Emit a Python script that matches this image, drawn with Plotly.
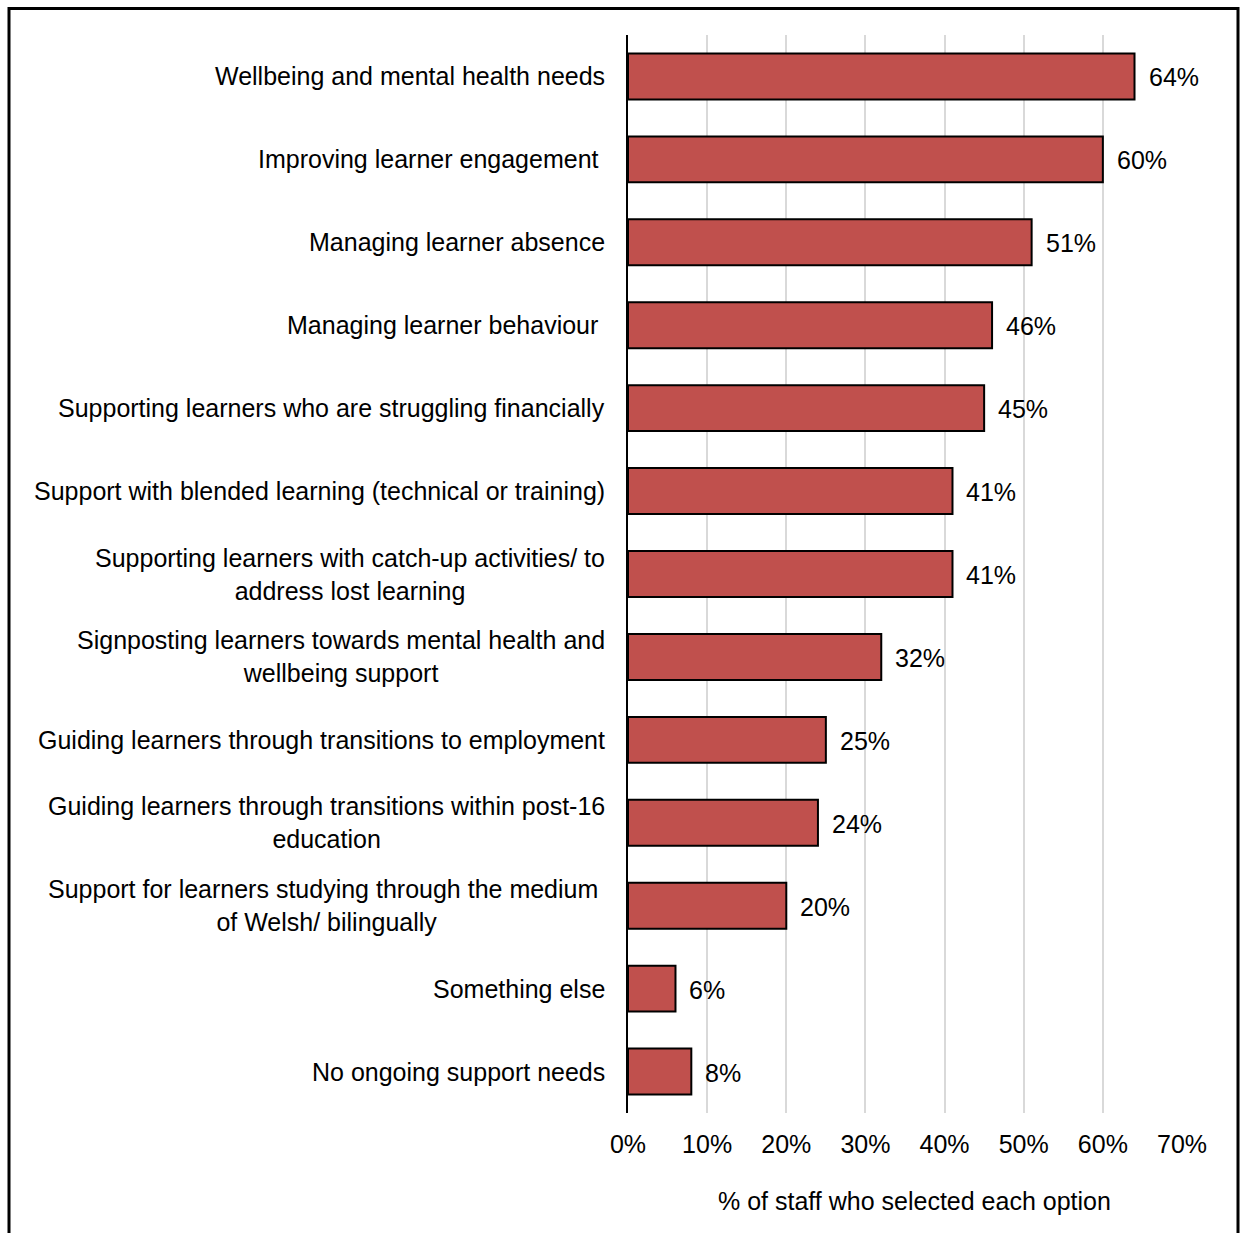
import plotly.graph_objects as go

# Survey options (top to bottom) and share of staff selecting each one (%)
options = [
    "Wellbeing and mental health needs",
    "Improving learner engagement\u00a0",
    "Managing learner absence",
    "Managing learner behaviour\u00a0",
    "Supporting learners who are struggling financially",
    "Support with blended learning (technical or training)",
    "Supporting learners with catch-up activities/ to<br>address lost learning",
    "Signposting learners towards mental health and<br>wellbeing support",
    "Guiding learners through transitions to employment",
    "Guiding learners through transitions within post-16<br>education",
    "Support for learners studying through the medium\u00a0<br>of Welsh/ bilingually",
    "Something else",
    "No ongoing support needs",
]
values = [64, 60, 51, 46, 45, 41, 41, 32, 25, 24, 20, 6, 8]
x_ticks = [0, 10, 20, 30, 40, 50, 60, 70]
x_tick_labels = [f"{t}%" for t in x_ticks]
x_title = "% of staff who selected each option"

FONT = "Liberation Sans, Arial, sans-serif"
FS = 25
W, H = 1243, 1233
L, R, T, B = 628, 61, 34.5, 119.5

cats = list(range(len(options)))

fig = go.Figure(
    go.Bar(
        x=values,
        y=cats,
        orientation="h",
        marker=dict(color="#C0504D", line=dict(color="#000000", width=2)),
        hoverinfo="skip",
    )
)

annotations = []
# category labels, centred multi-line text right-aligned against the axis
for c, label in zip(cats, options):
    annotations.append(dict(
        x=0, y=c, xref="x", yref="y", text=label, showarrow=False,
        xanchor="right", yanchor="middle", align="center", xshift=-21,
        font=dict(family=FONT, size=FS, color="#000000"),
    ))
# value labels after each bar
for c, v in zip(cats, values):
    annotations.append(dict(
        x=v, y=c, xref="x", yref="y", text=f"{v}%", showarrow=False,
        xanchor="left", yanchor="middle", xshift=12, yshift=-1,
        font=dict(family=FONT, size=FS, color="#000000"),
    ))
# axis title
pw = W - L - R
ph = H - T - B
annotations.append(dict(
    x=(914 - L) / pw, y=-(1202 - (H - B)) / ph, xref="paper", yref="paper",
    text=x_title, showarrow=False, xanchor="center", yanchor="middle",
    font=dict(family=FONT, size=FS, color="#000000"),
))

# outer frame around the whole chart
shapes = [dict(
    type="rect", xref="paper", yref="paper",
    x0=(9 - L) / pw, x1=(1238 - L) / pw,
    y0=(H - 1240 - B) / ph, y1=(H - 8 - B) / ph,
    line=dict(color="#000000", width=3), fillcolor="rgba(0,0,0,0)",
)]

fig.update_layout(
    width=W, height=H,
    margin=dict(l=L, r=R, t=T, b=B, pad=0),
    paper_bgcolor="#FFFFFF", plot_bgcolor="#FFFFFF",
    bargap=0.446,
    showlegend=False,
    annotations=annotations,
    shapes=shapes,
    font=dict(family=FONT, size=FS, color="#000000"),
    xaxis=dict(
        range=[0, 70], tickvals=x_ticks, ticktext=x_tick_labels,
        showgrid=True, gridcolor="#D9D9D9", gridwidth=2,
        zeroline=False, showline=False,
        ticks="outside", ticklen=9, tickcolor="rgba(0,0,0,0)",
        tickfont=dict(family=FONT, size=FS, color="#000000"),
        fixedrange=True,
    ),
    yaxis=dict(
        range=[len(options) - 0.5, -0.5],
        showticklabels=False, showgrid=False, zeroline=False,
        showline=True, linecolor="#000000", linewidth=2,
        ticks="", fixedrange=True,
    ),
)

fig.write_html("out.html")
